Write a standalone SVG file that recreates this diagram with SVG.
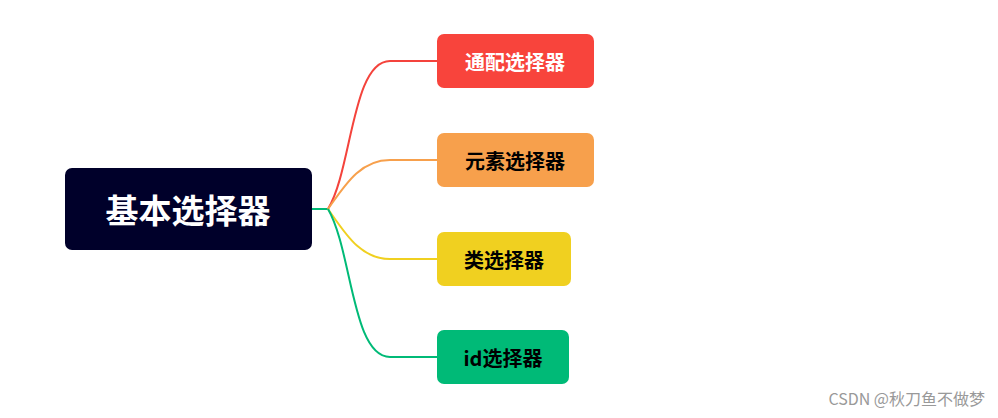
<svg xmlns="http://www.w3.org/2000/svg" width="998" height="418" viewBox="0 0 998 418">
<style>
.t{font-family:"Noto Sans CJK SC","Liberation Sans",sans-serif;font-weight:bold;text-anchor:middle;dominant-baseline:central}
.c{fill:none;stroke-width:2}
</style>
<rect width="998" height="418" fill="#fff"/>
<g id="connectors">
<path class="c" stroke="#00ba77" d="M312,209 H328"/>
<path class="c" stroke="#f4433c" d="M328,209 C352,170 352,61 390,61 H437"/>
<path class="c" stroke="#f7a04c" d="M328,209 C345,185 360,160 390,160 H437"/>
<path class="c" stroke="#f0d020" d="M328,209 C345,233 360,259 390,259 H437"/>
<path class="c" stroke="#00ba77" d="M328,209 C352,250 352,357 390,357 H437"/>
</g>
<g id="root"><rect x="65" y="168" width="247" height="82" rx="7" fill="#00002a"/><text class="t" x="188" y="209" font-size="33" fill="#fff">基本选择器</text></g>
<g id="n1"><rect x="437" y="34" width="157" height="54" rx="7" fill="#f8443c"/><text class="t" x="515" y="61" font-size="20" fill="#fff">通配选择器</text></g>
<g id="n2"><rect x="437" y="133" width="157" height="54" rx="7" fill="#f7a04c"/><text class="t" x="515" y="160" font-size="20" fill="#000">元素选择器</text></g>
<g id="n3"><rect x="437" y="232" width="134" height="54" rx="7" fill="#f0d020"/><text class="t" x="504" y="259" font-size="20" fill="#000">类选择器</text></g>
<g id="n4"><rect x="437" y="330" width="132" height="54" rx="7" fill="#00ba77"/><text class="t" x="503" y="357" font-size="20" fill="#000">id选择器</text></g>
<text x="985" y="405" font-family="Noto Sans CJK SC,sans-serif" font-size="16" fill="#999" text-anchor="end">CSDN @秋刀鱼不做梦</text>
</svg>
